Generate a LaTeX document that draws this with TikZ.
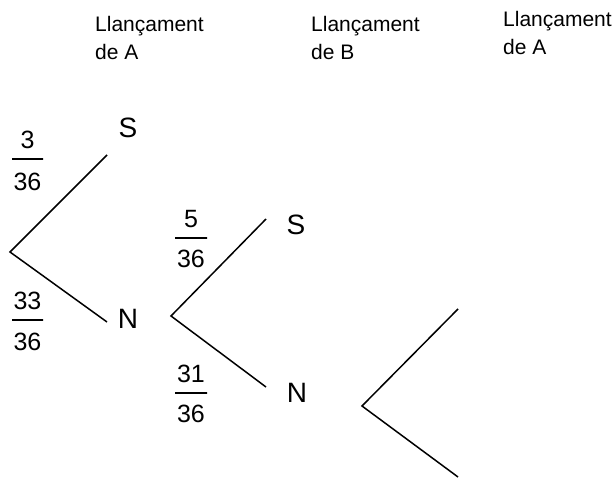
\documentclass[tikz,border=0pt]{standalone}
\usepackage{fontspec}
\setmainfont{Liberation Sans}
\usetikzlibrary{positioning}
\tikzset{
  branch/.style={line width=1.5pt},
  outcome/.style={font=\fontsize{28}{32}\selectfont, inner sep=0pt},
  probbar/.style={draw, line width=1.4pt, minimum height=0pt, inner sep=0pt, minimum width=31pt},
  digits/.style={font=\fontsize{25}{29}\selectfont, inner sep=0pt},
  heading/.style={font=\fontsize{21}{28}\selectfont, align=left, anchor=base west, inner sep=0pt}
}
\begin{document}
\begin{tikzpicture}[x=1pt,y=-1pt]
            \useasboundingbox (0,0) rectangle (613,478);
            % headings (anchor on the second line)
            \node[heading] (headA) at (95,60) {Llançament\\de A};
            \node[heading] (headB) at (311,60) {Llançament\\de B};
            \node[heading] (headC) at (503,55) {Llançament\\de A};
            % first throw
            \coordinate (root1) at (10,252);
            \coordinate (up1) at (107,155);
            \coordinate (down1) at (107,322);
            \draw[branch] (up1) -- (root1) -- (down1);
            \node[outcome] (S1) at (128,128) {S};
            \node[outcome] (N1) at (128,319) {N};
            \node[probbar] (bar1) at (27.5,159) {};
            \node[digits,above=9pt of bar1] (num1) {3};
            \node[digits,below=13pt of bar1] (den1) {36};
            \node[probbar] (bar2) at (27.5,320) {};
            \node[digits,above=9pt of bar2] (num2) {33};
            \node[digits,below=12pt of bar2] (den2) {36};
            % second throw
            \coordinate (root2) at (171,316);
            \coordinate (up2) at (266,219);
            \coordinate (down2) at (266,387);
            \draw[branch] (up2) -- (root2) -- (down2);
            \node[outcome] (S2) at (296,225) {S};
            \node[outcome] (N2) at (297,393) {N};
            \node[probbar,minimum width=32pt] (bar3) at (191,238) {};
            \node[digits,above=9pt of bar3] (num3) {5};
            \node[digits,below=11pt of bar3] (den3) {36};
            \node[probbar,minimum width=32pt] (bar4) at (191,393) {};
            \node[digits,above=9pt of bar4] (num4) {31};
            \node[digits,below=11pt of bar4] (den4) {36};
            % third throw
            \coordinate (root3) at (362,406);
            \coordinate (up3) at (458,309);
            \coordinate (down3) at (458,477);
            \draw[branch] (up3) -- (root3) -- (down3);
\end{tikzpicture}
\end{document}
